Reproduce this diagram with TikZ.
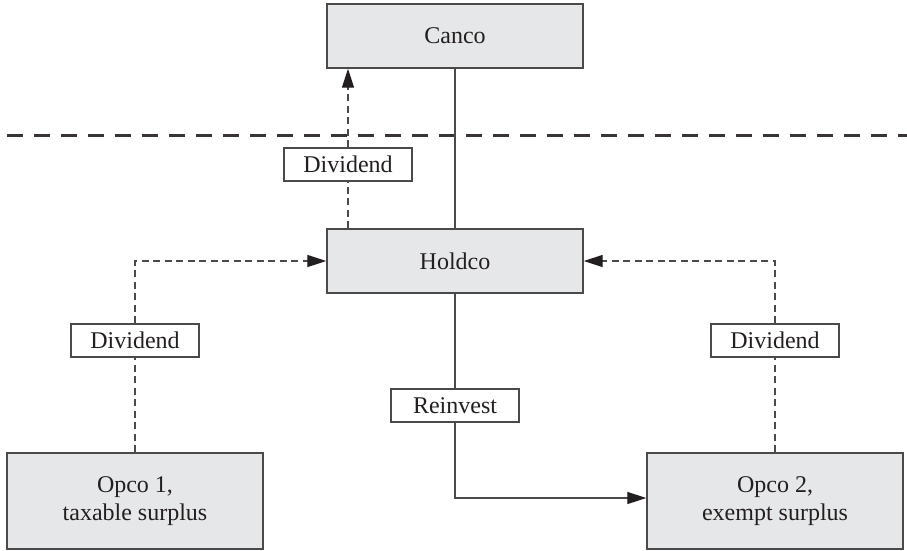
\documentclass[tikz,border=0pt]{standalone}
\usepackage{fontspec}
\setmainfont{Liberation Serif}
\usetikzlibrary{arrows.meta}
\definecolor{boxfill}{HTML}{E6E7E8}
\definecolor{boxline}{HTML}{4A4A4A}
\definecolor{ink}{HTML}{231F20}
\tikzset{
  entity/.style={draw=boxline, fill=boxfill, line width=1.4pt, minimum width=256pt,
    minimum height=64pt, inner sep=0pt, align=center, text=ink,
    font=\fontsize{24}{28}\selectfont},
  tallentity/.style={entity, minimum height=96pt},
  tag/.style={draw=boxline, fill=white, line width=1.2pt, minimum width=128pt,
    minimum height=33pt, inner sep=0pt, text=ink, font=\fontsize{24}{28}\selectfont},
  conn/.style={draw=boxline, line width=1.3pt},
  dconn/.style={conn, dash pattern=on 7pt off 4.5pt},
  tip/.style={-{Triangle[length=19pt,width=12pt,color=ink]}},
  sepline/.style={draw=ink!90, line width=3pt, dash pattern=on 16pt off 11pt}
}
\begin{document}
\begin{tikzpicture}[x=1pt,y=-1pt]
\useasboundingbox (0,0) rectangle (907,550);
\node[entity] (canco) at (455,36) {Canco};
\node[entity] (holdco) at (455,261) {Holdco};
\node[tallentity] (opco1) at (135,501) {Opco 1,\\taxable surplus};
\node[tallentity] (opco2) at (775,501) {Opco 2,\\exempt surplus};
\node[tag] (div0) at (348,164.5) {Dividend};
\node[tag] (div1) at (135,340.5) {Dividend};
\node[tag] (div2) at (775,340.5) {Dividend};
\node[tag] (reinv) at (455,405.5) {Reinvest};
\coordinate (sepL) at (7,135);
\coordinate (sepR) at (907,135);
% separator
\draw[sepline] (sepL) -- (sepR);
% holdco to canco
\draw[conn] (holdco.north) -- (canco.south);
\draw[dconn] (holdco.north -| div0.south) -- (div0.south);
\draw[dconn,tip] (div0.north) -- (canco.south -| div0.north);
% opco1 dividend
\draw[dconn] (opco1.north) -- (div1.south);
\draw[dconn,tip] (div1.north) |- (holdco.west);
% opco2 dividend
\draw[dconn] (opco2.north) -- (div2.south);
\draw[dconn,tip] (div2.north) |- (holdco.east);
% reinvest
\draw[conn] (holdco.south) -- (reinv.north);
\draw[conn,tip] (reinv.south) |- ([yshift=3pt]opco2.west);
\end{tikzpicture}
\end{document}
